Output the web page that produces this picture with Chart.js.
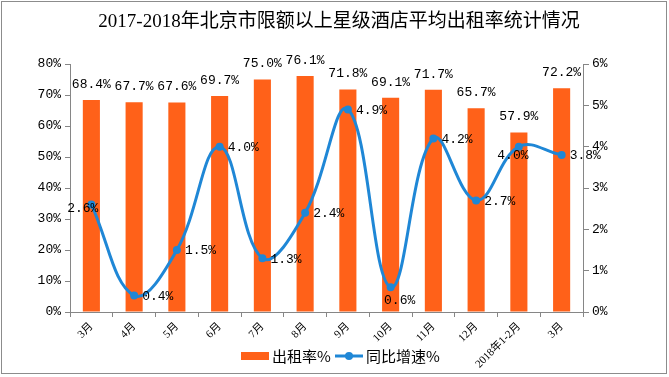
<!DOCTYPE html>
<html>
<head>
<meta charset="utf-8">
<script src="https://cdn.jsdelivr.net/npm/chart.js@4.4.1/dist/chart.umd.min.js"></script>
<style>
    html, body { margin: 0; padding: 0; background: #fff; }
    #wrap { width: 669px; height: 377px; position: relative; }
</style>
</head>
<body>
<div id="wrap"><canvas id="hotelChart" width="669" height="377"></canvas></div>
<script>
// 数据
const months = ['3月', '4月', '5月', '6月', '7月', '8月', '9月', '10月', '11月', '12月', '2018年1-2月', '3月'];
const occupancyRate = [68.4, 67.7, 67.6, 69.7, 75.0, 76.1, 71.8, 69.1, 71.7, 65.7, 57.9, 72.2];
const yoyGrowth = [2.6, 0.4, 1.5, 4.0, 1.3, 2.4, 4.9, 0.6, 4.2, 2.7, 4.0, 3.8];
// 折线标签位置
const growthLabelPos = ['left', 'right', 'right', 'right', 'right', 'right', 'right', 'below', 'right', 'right', 'belowLeft', 'right'];

const titleText = '2017-2018年北京市限额以上星级酒店平均出租率统计情况';
const barColor = '#FF6119';
const lineColor = '#1F87D6';
const axisColor = '#868686';
const monoFont = "'Liberation Mono', 'Noto Sans CJK SC', monospace";

// 标题、边框、图例、数据标签
const decorPlugin = {
    id: 'decor',
    beforeDraw(chart) {
        const ctx = chart.ctx;
        ctx.save();
        ctx.fillStyle = '#fff';
        ctx.fillRect(0, 0, chart.width, chart.height);
        ctx.strokeStyle = '#8c8c8c';
        ctx.lineWidth = 1;
        ctx.strokeRect(1.5, 1.5, chart.width - 4, chart.height - 5);
        ctx.fillStyle = '#000';
        ctx.font = "19px 'Liberation Serif', 'Noto Sans CJK SC', serif";
        ctx.textAlign = 'center';
        ctx.textBaseline = 'middle';
        ctx.fillText(titleText, 339, 22);
        ctx.restore();
    },
    afterDatasetsDraw(chart) {
        const ctx = chart.ctx;
        ctx.save();
        ctx.fillStyle = '#000';
        ctx.font = '13px ' + monoFont;

        // 柱状图标签
        const barMeta = chart.getDatasetMeta(0);
        ctx.textAlign = 'center';
        ctx.textBaseline = 'bottom';
        barMeta.data.forEach((el, i) => {
            ctx.fillText(occupancyRate[i].toFixed(1) + '%', el.x, el.y - 9);
        });

        // 折线标签
        const lineMeta = chart.getDatasetMeta(1);
        lineMeta.data.forEach((el, i) => {
            const txt = yoyGrowth[i].toFixed(1) + '%';
            const pos = growthLabelPos[i];
            ctx.textBaseline = 'middle';
            if (pos === 'right') {
                ctx.textAlign = 'left';
                ctx.fillText(txt, el.x + 8, el.y + 1);
            } else if (pos === 'left') {
                ctx.textAlign = 'right';
                ctx.fillText(txt, el.x + 7, el.y + 4);
            } else if (pos === 'below') {
                ctx.textAlign = 'center';
                ctx.fillText(txt, el.x + 9, el.y + 13);
            } else {
                ctx.textAlign = 'center';
                ctx.fillText(txt, el.x - 6, el.y + 9);
            }
        });

        // 图例
        const ly = 356;
        ctx.fillStyle = barColor;
        ctx.fillRect(241, ly - 4, 28, 8);
        ctx.fillStyle = '#000';
        ctx.font = "15px 'Noto Sans CJK SC', sans-serif";
        ctx.textAlign = 'left';
        ctx.textBaseline = 'middle';
        ctx.fillText('出租率%', 272, ly);
        ctx.strokeStyle = lineColor;
        ctx.lineWidth = 3;
        ctx.beginPath();
        ctx.moveTo(335, ly);
        ctx.lineTo(363, ly);
        ctx.stroke();
        ctx.fillStyle = lineColor;
        ctx.beginPath();
        ctx.arc(349, ly, 4, 0, Math.PI * 2);
        ctx.fill();
        ctx.fillStyle = '#000';
        ctx.fillText('同比增速%', 366, ly);
        ctx.restore();
    }
};

const ctx = document.getElementById('hotelChart').getContext('2d');
const hotelChart = new Chart(ctx, {
    type: 'bar',
    data: {
        labels: months,
        datasets: [{
            type: 'bar',
            label: '出租率%',
            data: occupancyRate,
            backgroundColor: barColor,
            yAxisID: 'y',
            categoryPercentage: 1,
            barPercentage: 0.4,
            order: 1
        }, {
            type: 'line',
            label: '同比增速%',
            data: yoyGrowth,
            borderColor: lineColor,
            backgroundColor: lineColor,
            borderWidth: 3,
            pointRadius: 4,
            pointBackgroundColor: lineColor,
            pointBorderWidth: 0,
            tension: 0.4,
            fill: false,
            yAxisID: 'y1',
            order: 0
        }]
    },
    options: {
        responsive: false,
        animation: false,
        layout: { padding: { top: 64, left: 0, right: 0, bottom: 0 } },
        plugins: {
            legend: { display: false },
            title: { display: false },
            tooltip: { enabled: false }
        },
        scales: {
            x: {
                grid: { display: true, drawOnChartArea: false, offset: true, color: axisColor, tickLength: 5 },
                border: { color: axisColor, width: 1 },
                ticks: {
                    autoSkip: false,
                    maxRotation: 45,
                    minRotation: 45,
                    padding: 3,
                    color: '#000',
                    font: { family: "'Liberation Serif', 'Noto Sans CJK SC', serif", size: 11 }
                },
                afterFit(scale) { scale.height = 65; }
            },
            y: {
                position: 'left',
                min: 0,
                max: 80,
                ticks: {
                    stepSize: 10,
                    color: '#000',
                    padding: 4,
                    font: { family: monoFont, size: 13 },
                    callback: v => v + '%'
                },
                grid: { drawOnChartArea: false, color: axisColor, tickLength: 5 },
                border: { color: axisColor, width: 1 },
                afterFit(scale) { scale.width = 70; }
            },
            y1: {
                position: 'right',
                min: 0,
                max: 6,
                ticks: {
                    stepSize: 1,
                    color: '#000',
                    padding: 3,
                    font: { family: monoFont, size: 13 },
                    callback: v => v + '%'
                },
                grid: { drawOnChartArea: false, color: axisColor, tickLength: 6 },
                border: { color: axisColor, width: 1 },
                afterFit(scale) { scale.width = 86; }
            }
        }
    },
    plugins: [decorPlugin]
});
</script>
</body>
</html>
